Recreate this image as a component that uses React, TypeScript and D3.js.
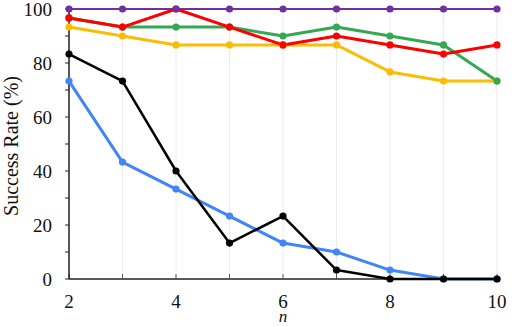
import React, { useRef, useEffect } from 'react';
import * as d3 from 'd3';

const nValues = [2, 3, 4, 5, 6, 7, 8, 9, 10];
const xTickLabels = [2, 4, 6, 8, 10];
const yTickValues = [0, 10, 20, 30, 40, 50, 60, 70, 80, 90, 100];
const yTickLabels = [0, 20, 40, 60, 80, 100];

const purpleRates = [100, 100, 100, 100, 100, 100, 100, 100, 100];
const redRates = [96.7, 93.3, 100, 93.3, 86.7, 90, 86.7, 83.3, 86.7];
const greenRates = [96.7, 93.3, 93.3, 93.3, 90, 93.3, 90, 86.7, 73.3];
const yellowRates = [93.3, 90, 86.7, 86.7, 86.7, 86.7, 76.7, 73.3, 73.3];
const blackRates = [83.3, 73.3, 40, 13.3, 23.3, 3.3, 0, 0, 0];
const blueRates = [73.3, 43.3, 33.3, 23.3, 13.3, 10, 3.3, 0, 0];

const WIDTH = 515;
const HEIGHT = 327;

const App = () => {
  const svgRef = useRef(null);

  useEffect(() => {
    const svg = d3.select(svgRef.current);
    svg.selectAll('*').remove();

    const margin = { top: 9, right: 18, bottom: 48, left: 69 };
    const innerWidth = WIDTH - margin.left - margin.right;
    const innerHeight = HEIGHT - margin.top - margin.bottom;
    const font = '"Liberation Serif", "Times New Roman", serif';

    const x = d3.scaleLinear().domain([2, 10]).range([0, innerWidth]);
    const y = d3.scaleLinear().domain([0, 100]).range([innerHeight, 0]);

    const g = svg.append('g').attr('transform', `translate(${margin.left},${margin.top})`);

    // vertical grid
    g.selectAll('line.grid')
      .data(nValues)
      .enter()
      .append('line')
      .attr('class', 'grid')
      .attr('x1', (d) => x(d))
      .attr('x2', (d) => x(d))
      .attr('y1', 0)
      .attr('y2', innerHeight)
      .attr('stroke', '#ececec')
      .attr('stroke-width', 1);

    // x axis: ticks inward
    const xAxis = g.append('g').attr('transform', `translate(0,${innerHeight})`);
    xAxis.append('line')
      .attr('x1', 0).attr('x2', innerWidth)
      .attr('y1', 0).attr('y2', 0)
      .attr('stroke', '#222').attr('stroke-width', 1.5);
    xAxis.selectAll('line.tick')
      .data(nValues)
      .enter()
      .append('line')
      .attr('class', 'tick')
      .attr('x1', (d) => x(d)).attr('x2', (d) => x(d))
      .attr('y1', 0).attr('y2', -5)
      .attr('stroke', '#555').attr('stroke-width', 1);
    xAxis.selectAll('text')
      .data(xTickLabels)
      .enter()
      .append('text')
      .attr('x', (d) => x(d))
      .attr('y', 29)
      .attr('text-anchor', 'middle')
      .attr('font-family', font)
      .attr('font-size', 19)
      .attr('fill', '#111')
      .text((d) => d);

    // y axis: ticks outward
    const yAxis = g.append('g');
    yAxis.append('line')
      .attr('x1', 0).attr('x2', 0)
      .attr('y1', 0).attr('y2', innerHeight)
      .attr('stroke', '#222').attr('stroke-width', 1.5);
    yAxis.selectAll('line.tick')
      .data(yTickValues)
      .enter()
      .append('line')
      .attr('class', 'tick')
      .attr('x1', 0).attr('x2', -4)
      .attr('y1', (d) => y(d)).attr('y2', (d) => y(d))
      .attr('stroke', '#222').attr('stroke-width', 1);
    yAxis.selectAll('text')
      .data(yTickLabels)
      .enter()
      .append('text')
      .attr('x', -17)
      .attr('y', (d) => y(d))
      .attr('dy', '0.35em')
      .attr('text-anchor', 'end')
      .attr('font-family', font)
      .attr('font-size', 19)
      .attr('fill', '#111')
      .text((d) => d);

    // axis titles
    svg.append('text')
      .attr('x', margin.left + x(6))
      .attr('y', 322)
      .attr('text-anchor', 'middle')
      .attr('font-family', font)
      .attr('font-style', 'italic')
      .attr('font-size', 17)
      .attr('fill', '#111')
      .text('n');

    svg.append('text')
      .attr('transform', `translate(18,${146}) rotate(-90)`)
      .attr('text-anchor', 'middle')
      .attr('font-family', font)
      .attr('font-size', 20)
      .attr('fill', '#111')
      .text('Success Rate (%)');

    const series = [
      { key: 'blue', values: blueRates, color: '#4285F4', width: 3 },
      { key: 'yellow', values: yellowRates, color: '#FBBC04', width: 3 },
      { key: 'green', values: greenRates, color: '#34A853', width: 3 },
      { key: 'purple', values: purpleRates, color: '#7030A0', width: 2 },
      { key: 'red', values: redRates, color: '#FF0000', width: 3 },
      { key: 'black', values: blackRates, color: '#000000', width: 2.5 },
    ];
    const markerOrder = ['blue', 'yellow', 'green', 'red', 'purple', 'black'];

    const line = d3.line<number>()
      .x((d, i) => x(nValues[i]))
      .y((d) => y(d));

    series.forEach((s) => {
      g.append('path')
        .datum(s.values)
        .attr('fill', 'none')
        .attr('stroke', s.color)
        .attr('stroke-width', s.width)
        .attr('stroke-linejoin', 'round')
        .attr('d', line);
    });

    markerOrder.forEach((k) => {
      const s = series.find((d) => d.key === k);
      g.append('g')
        .selectAll('circle')
        .data(s.values)
        .enter()
        .append('circle')
        .attr('cx', (d, i) => x(nValues[i]))
        .attr('cy', (d) => y(d))
        .attr('r', 3.6)
        .attr('fill', s.color);
    });
  }, []);

  return (
    <svg
      ref={svgRef}
      width={WIDTH}
      height={HEIGHT}
      style={{ position: 'absolute', left: 0, top: 0, background: '#fff' }}
    />
  );
};

export default App;
